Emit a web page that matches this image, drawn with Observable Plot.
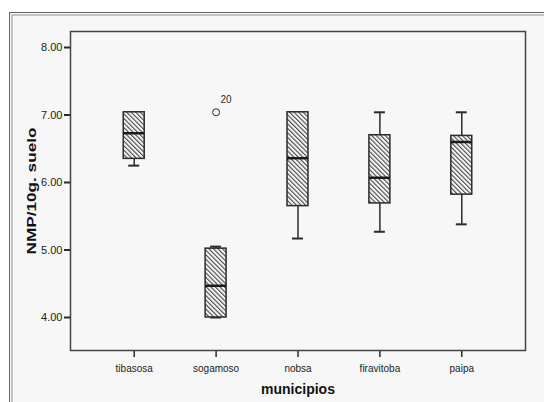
<!DOCTYPE html>
<html><head><meta charset="utf-8">
<script src="https://cdn.jsdelivr.net/npm/d3@7"></script>
<script src="https://cdn.jsdelivr.net/npm/@observablehq/plot@0.6"></script>
<style>
html,body{margin:0;padding:0;background:#fff;width:544px;height:402px;overflow:hidden;}
#frame{position:absolute;left:9px;top:12px;width:600px;height:500px;background:#f7f7f7;
  border-left:1px solid #666;border-top:1px solid #666;box-sizing:border-box;
  box-shadow: inset 1px 1px 0 #f7f7f7, inset 3px 3px 0 #c4c4c4;}
#chart{position:absolute;left:0;top:0;}
</style></head><body>
<div id="frame"></div><div id="chart"></div>
<script>
const municipios = ["tibasosa", "sogamoso", "nobsa", "firavitoba", "paipa"];
const whiskerLow  = [6.25, 4.00, 5.17, 5.27, 5.38];
const q1          = [6.35, 4.00, 5.65, 5.69, 5.82];
const median      = [6.73, 4.47, 6.36, 6.07, 6.60];
const q3          = [7.04, 5.02, 7.04, 6.70, 6.69];
const whiskerHigh = [7.04, 5.05, 7.04, 7.04, 7.04];
const outlierMunicipio = ["sogamoso"];
const outlierValue = [7.04];
const outlierLabel = ["20"];
const yTicks = [4, 5, 6, 7, 8];

const data = municipios.map((m, i) => ({municipio: m, lo: whiskerLow[i], q1: q1[i], med: median[i], q3: q3[i], hi: whiskerHigh[i]}));
const outliers = outlierMunicipio.map((m, i) => ({municipio: m, value: outlierValue[i], label: outlierLabel[i]}));

const ink = "#2b2b2b";
const chart = Plot.plot({
  width: 544, height: 402,
  marginLeft: 70, marginRight: 19, marginTop: 31, marginBottom: 52,
  style: {background: "transparent", fontFamily: "'Liberation Sans', Arial, sans-serif", fontSize: "11px", color: "#222"},
  x: {type: "band", domain: municipios, paddingInner: 0.744, paddingOuter: 0.65, round: false, label: null},
  y: {domain: [3.511, 8.237], label: null},
  marks: [
    Plot.axisY({ticks: yTicks, tickFormat: d => d.toFixed(2), tickSize: 6, tickPadding: 2, fontSize: 11,
      strokeWidth: 2, stroke: ink, label: "NMP/10g. suelo", labelAnchor: "center", labelOffset: 44, labelArrow: false}),
    Plot.axisX({tickSize: 7, tickPadding: 7, fontSize: 10, strokeWidth: 1.5, stroke: ink,
      label: "municipios", labelAnchor: "center", labelOffset: 43, labelArrow: false}),
    Plot.ruleX(data, {x: "municipio", y1: "lo", y2: "hi", stroke: ink, strokeWidth: 1.5}),
    Plot.tickY(data, {x: "municipio", y: "lo", insetLeft: 5, insetRight: 5, stroke: ink, strokeWidth: 2}),
    Plot.tickY(data, {x: "municipio", y: "hi", insetLeft: 5, insetRight: 5, stroke: ink, strokeWidth: 2}),
    Plot.barY(data, {x: "municipio", y1: "q1", y2: "q3", fill: "url(#hatch)", stroke: ink, strokeWidth: 1.5}),
    Plot.tickY(data, {x: "municipio", y: "med", stroke: "#1a1a1a", strokeWidth: 2.5}),
    Plot.dot(outliers, {x: "municipio", y: "value", r: 3.5, stroke: ink, fill: "none", strokeWidth: 1}),
    Plot.text(outliers, {x: "municipio", y: "value", text: "label", dx: 10, dy: -12, fontSize: 10, fill: ink}),
    Plot.frame({stroke: "#444", strokeWidth: 1.5})
  ]
});

// hatch pattern
const svg = d3.select(chart);
const defs = svg.insert("defs", ":first-child");
const pat = defs.append("pattern").attr("id", "hatch").attr("patternUnits", "userSpaceOnUse")
  .attr("width", 3.2).attr("height", 3.2).attr("patternTransform", "rotate(-45)");
pat.append("rect").attr("width", 3.2).attr("height", 3.2).attr("fill", "#f7f7f7");
pat.append("line").attr("x1", 0.6).attr("y1", 0).attr("x2", 0.6).attr("y2", 3.2).attr("stroke", "#333").attr("stroke-width", 1);

svg.selectAll('[aria-label="y-axis label"] text')
  .attr("font-weight", "bold").attr("font-size", 13).attr("fill", "#111")
  .attr("textLength", 127).attr("lengthAdjust", "spacingAndGlyphs");
svg.selectAll('[aria-label="x-axis label"] text')
  .attr("font-weight", "bold").attr("font-size", 14).attr("fill", "#111");

document.getElementById("chart").appendChild(chart);
</script>
</body></html>
